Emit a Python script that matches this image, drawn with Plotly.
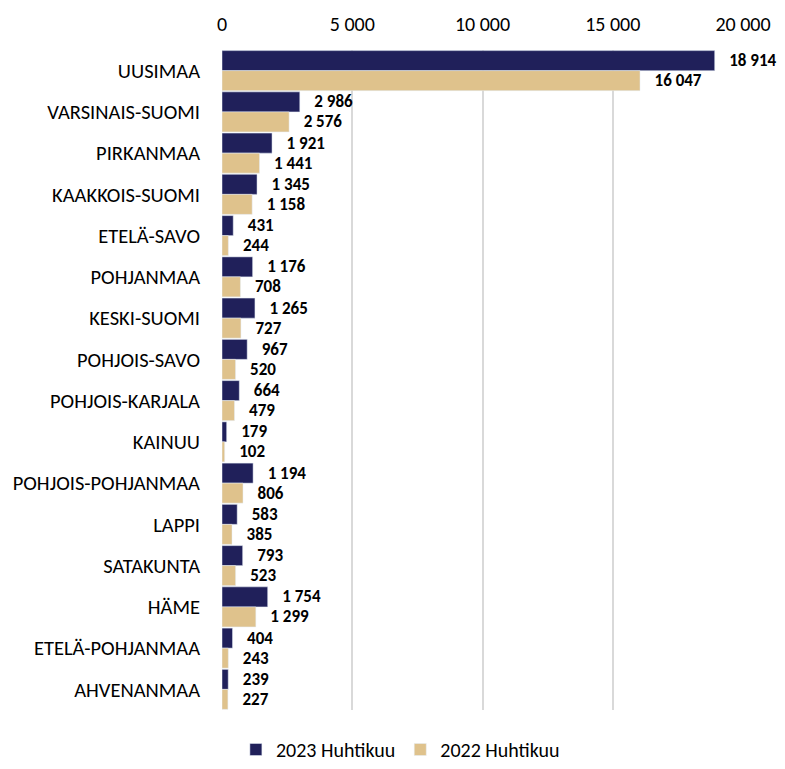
import plotly.graph_objects as go

regions = ["UUSIMAA", "VARSINAIS-SUOMI", "PIRKANMAA", "KAAKKOIS-SUOMI", "ETELÄ-SAVO",
           "POHJANMAA", "KESKI-SUOMI", "POHJOIS-SAVO", "POHJOIS-KARJALA", "KAINUU",
           "POHJOIS-POHJANMAA", "LAPPI", "SATAKUNTA", "HÄME", "ETELÄ-POHJANMAA", "AHVENANMAA"]
v2023 = [18914, 2986, 1921, 1345, 431, 1176, 1265, 967, 664, 179, 1194, 583, 793, 1754, 404, 239]
v2022 = [16047, 2576, 1441, 1158, 244, 708, 727, 520, 479, 102, 806, 385, 523, 1299, 243, 227]
tickvals = [0, 5000, 10000, 15000, 20000]

FONT = "Carlito, Lato, 'Open Sans', sans-serif"
NAVY = "#20205A"
TAN = "#DFC28C"

fig = go.Figure()
for name, vals, col in [("2023 Huhtikuu", v2023, NAVY), ("2022 Huhtikuu", v2022, TAN)]:
    fig.add_trace(go.Bar(y=regions, x=vals, orientation="h", name=name,
                         marker_color=col, textposition="outside", cliponaxis=False,
                         constraintext="none",
                         texttemplate="\u00a0\u00a0\u00a0<b>%{x:,d}</b>",
                         textfont=dict(size=17, color="black", family=FONT)))

fig.update_layout(
    width=777, height=761,
    margin=dict(l=214, r=42, t=42, b=59),
    paper_bgcolor="white", plot_bgcolor="white",
    barmode="group", bargap=0.03, bargroupgap=0,
    separators=", ",
    font=dict(family=FONT, size=21, color="black"),
    xaxis=dict(side="top", range=[0, 20000], tickvals=tickvals, tickformat=",d",
               showgrid=True, gridcolor="#D9D9D9", gridwidth=1.5, zeroline=False,
               showline=False, ticks="", tickfont=dict(size=20), ticklabelstandoff=14,
               automargin=False),
    yaxis=dict(autorange="reversed", showgrid=False, showline=False, ticks="",
               ticklabelstandoff=21, tickfont=dict(size=20.5), automargin=False),
    legend=dict(orientation="h", xref="container", x=0.505, xanchor="center",
                y=-0.005, yref="container", yanchor="bottom",
                font=dict(size=20), traceorder="normal",
                tracegroupgap=0, itemwidth=30),
)

fig.write_html("out.html")
